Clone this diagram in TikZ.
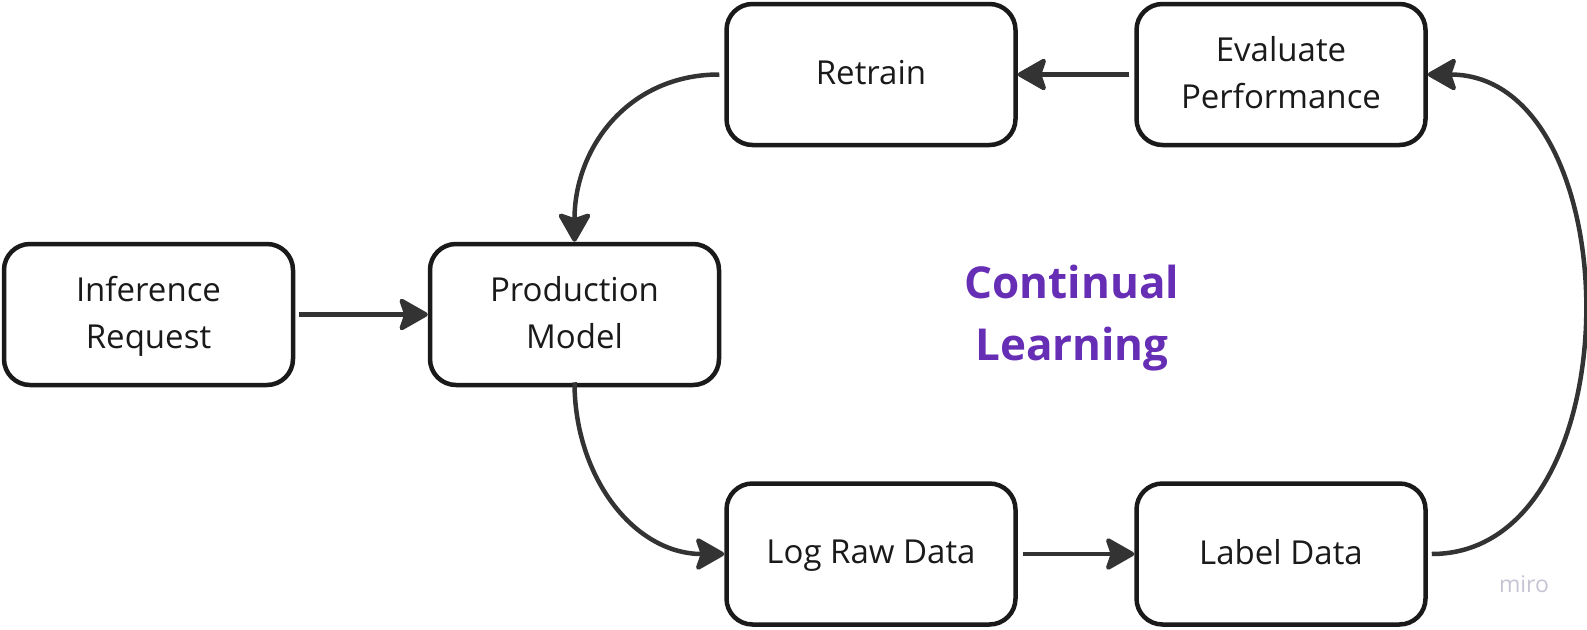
\documentclass[tikz,border=0pt]{standalone}
\usepackage{fontspec}
\setmainfont{Open Sans}
\usetikzlibrary{arrows.meta}
\definecolor{ink}{HTML}{1A1A1A}
\definecolor{wire}{HTML}{333333}
\definecolor{accent}{HTML}{662DB5}
\definecolor{mark}{HTML}{C4C4D4}
\tikzset{
  box/.style={draw=ink, line width=4.5pt, rounded corners=26pt, fill=white,
    minimum width=289pt, minimum height=141pt, inner sep=0pt, text depth=4pt,
    align=center, text=ink, font=\fontsize{33}{47}\selectfont},
  conn/.style={draw=wire, line width=4.5pt,
    -{Stealth[length=32pt, width=36pt, inset=6pt, round]}},
}
\begin{document}
\begin{tikzpicture}[x=1pt, y=-1pt]
\useasboundingbox (0,0) rectangle (1587,629);
\node[box] (inf) at (148.5,314.5) {Inference\\Request};
\node[box] (prod) at (574.5,314.5) {Production\\Model};
\node[box] (ret) at (871,74.5) {Retrain};
\node[box] (eval) at (1281,74.5) {Evaluate\\Performance};
\node[box] (log) at (871,554) {Log Raw Data};
\node[box] (lab) at (1281,554) {Label Data};
\node[text=accent, align=center, font=\bfseries\fontsize{44}{62}\selectfont] (cl) at (1072,318) {Continual\\Learning};
\node[text=mark, font=\fontsize{23}{23}\selectfont] (wm) at (1524,584) {miro};

\draw[conn] ([xshift=4pt]inf.east) -- (prod.west);
\draw[conn] ([xshift=-5pt]ret.west) .. controls +(-90,0) and +(0,-95) .. (prod.north);
\draw[conn] ([yshift=5pt]prod.south) .. controls +(0,95) and +(-90,0) .. (log.west);
\draw[conn] ([xshift=5pt]log.east) -- (lab.west);
\draw[conn] ([xshift=-5pt]eval.west) -- (ret.east);
\draw[conn] ([xshift=4pt]lab.east) .. controls +(205,0) and +(205,0) .. (eval.east);
\end{tikzpicture}
\end{document}
